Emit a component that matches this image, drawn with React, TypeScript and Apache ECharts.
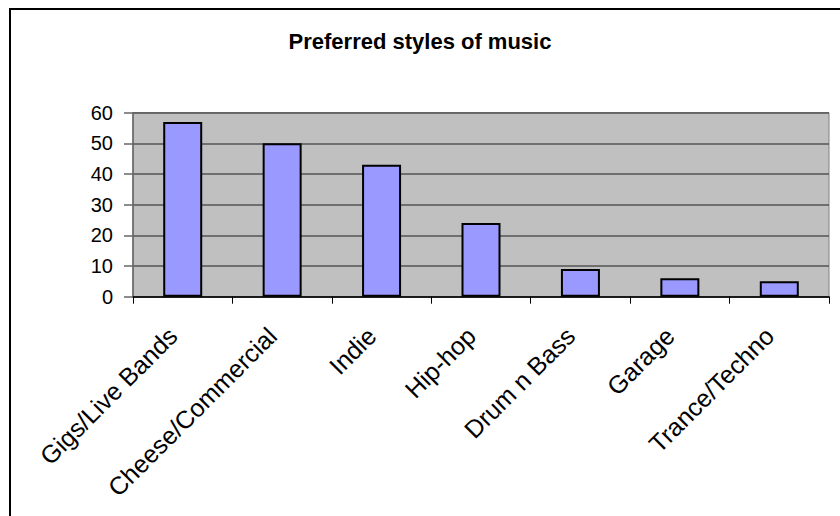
import React, { useEffect, useRef } from "react";
import * as echarts from "echarts";

const categories = ["Gigs/Live Bands", "Cheese/Commercial", "Indie", "Hip-hop", "Drum n Bass", "Garage", "Trance/Techno"];
const values = [57, 50, 43, 24, 9, 6, 5];
const titleText = "Preferred styles of music";

const FONT = "Liberation Sans, Arial, sans-serif";

export default function App() {
  const ref = useRef<HTMLDivElement>(null);
  useEffect(() => {
    if (!ref.current) return;
    const chart = echarts.init(ref.current, null, { renderer: "svg" });
    chart.setOption({
      animation: false,
      backgroundColor: "#ffffff",
      textStyle: { fontFamily: FONT },
      title: {
        text: titleText,
        left: "center",
        top: 25,
        textStyle: { fontSize: 22, fontWeight: "bold", color: "#000", fontFamily: FONT },
      },
      graphic: [
        {
          type: "rect",
          shape: { x: 10, y: 9, width: 840, height: 520 },
          style: { fill: "none", stroke: "#000", lineWidth: 2 },
          silent: true,
          z: 100,
        },
      ],
      grid: {
        left: 133,
        right: 11,
        top: 112.7,
        bottom: 219.3,
        show: true,
        backgroundColor: "#C0C0C0",
        borderColor: "#808080",
        borderWidth: 1,
      },
      xAxis: {
        type: "category",
        data: categories,
        boundaryGap: true,
        axisLine: { lineStyle: { color: "#000", width: 1.5 } },
        axisTick: { show: true, length: 7, lineStyle: { color: "#000" } },
        axisLabel: {
          interval: 0,
          rotate: 45,
          fontSize: 25,
          color: "#000",
          margin: 25,
          padding: [0, 14, 0, 0],
          fontFamily: FONT,
        },
      },
      yAxis: {
        type: "value",
        min: 0,
        max: 60,
        interval: 10,
        axisLine: { show: true, lineStyle: { color: "#666", width: 1.5 } },
        axisTick: { show: true, length: 9, lineStyle: { color: "#666", width: 1.5 } },
        axisLabel: { fontSize: 20, color: "#000", margin: 20, fontFamily: FONT },
        splitLine: { show: true, lineStyle: { color: "#555", width: 1.5 } },
      },
      series: [
        {
          type: "bar",
          data: values,
          barWidth: 39,
          itemStyle: { color: "#9999FF", borderColor: "#000", borderWidth: 2 },
        },
      ],
    });
    return () => chart.dispose();
  }, []);
  return (
    <div
      ref={ref}
      style={{ position: "fixed", left: 0, top: 0, width: 840, height: 516 }}
    />
  );
}
